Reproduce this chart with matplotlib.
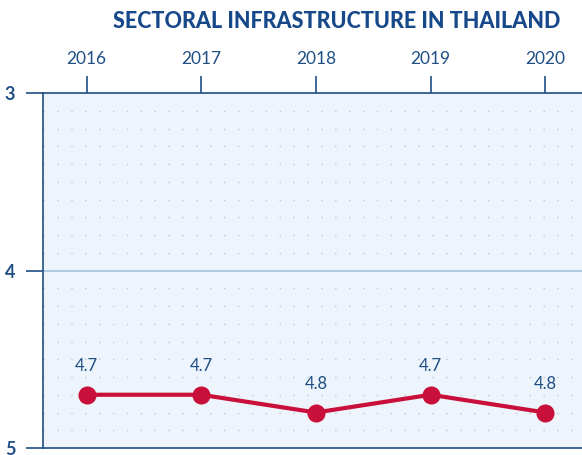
import matplotlib.pyplot as plt
import numpy as np

years = [2016, 2017, 2018, 2019, 2020]
ranks = [4.7, 4.7, 4.8, 4.7, 4.8]
labels = ['4.7', '4.7', '4.8', '4.7', '4.8']

navy = '#1f4f85'
red = '#c8103a'

plt.rcParams['font.family'] = ['Lato', 'DejaVu Sans']

fig = plt.figure(figsize=(5.82, 4.55), dpi=100)
ax = fig.add_axes([43/582, 7/455, 539/582, 355/455])
ax.set_facecolor('#eef4fb')

ax.set_xlim(2015.62, 2020.32)
ax.set_ylim(5, 3)

# dotted guide rows every 0.1
for v in np.arange(3.1, 5.0, 0.1):
    if abs(v - 4) < 1e-6:
        continue
    ax.axhline(v, color='#bcc8d6', lw=1.0, ls=(0, (1, 9)), zorder=1)
ax.axhline(4, color='#a9c6e2', lw=1.3, zorder=1)

ax.plot(years, ranks, color=red, lw=3, marker='o', ms=12, zorder=3)
for x, y, t in zip(years, ranks, labels):
    ax.annotate(t, (x, y), xytext=(0, 15), textcoords='offset points',
                ha='center', va='bottom', color=navy, fontsize=12)

ax.xaxis.tick_top()
ax.set_xticks(years)
ax.set_xticklabels([str(y) for y in years])
ax.set_yticks([3, 4, 5])
ax.tick_params(axis='x', direction='out', length=12, width=1.2, color=navy,
               labelcolor=navy, labelsize=12.5, pad=7)
ax.tick_params(axis='y', direction='out', length=12, width=1.2, color=navy,
               labelcolor=navy, labelsize=13, pad=8)
for lab in ax.get_yticklabels():
    lab.set_fontweight('bold')

for s in ['top', 'left', 'bottom']:
    ax.spines[s].set_color(navy)
    ax.spines[s].set_linewidth(1.2)
ax.spines['right'].set_visible(False)

fig.text(337/582, 1 - 21/455, 'SECTORAL INFRASTRUCTURE IN THAILAND', ha='center', va='center',
         color='#17498a', fontsize=15.5, fontweight='black', family='Lato')

fig.savefig('out.png', dpi=100)
